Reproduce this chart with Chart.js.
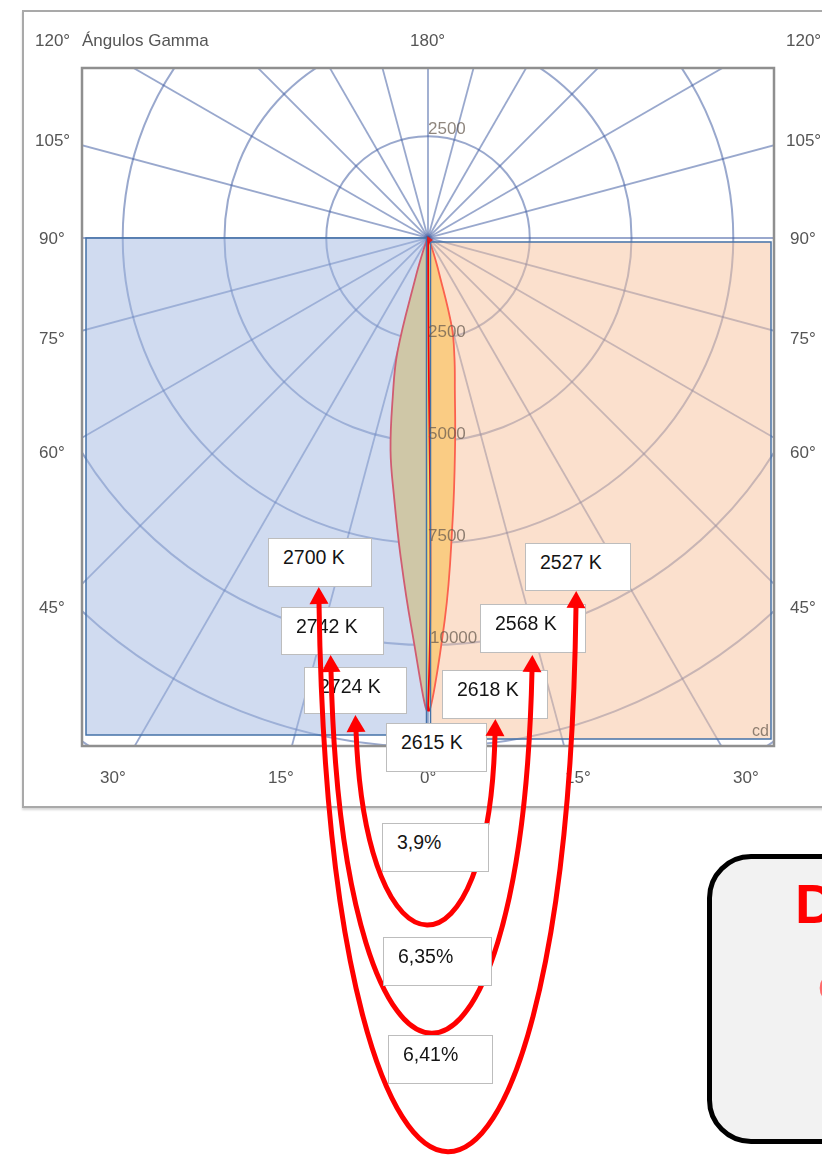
<!DOCTYPE html>
<html>
<head>
<meta charset="utf-8">
<script src="https://cdn.jsdelivr.net/npm/chart.js@4.4.0/dist/chart.umd.min.js"></script>
<style>
  html, body { margin: 0; padding: 0; background: #fff; }
  body { width: 822px; height: 1156px; position: relative; overflow: hidden; font-family: "Liberation Sans", Arial, sans-serif; }
  .abs { position: absolute; white-space: nowrap; line-height: 1; }
  #frame { position: absolute; left: 22px; top: 10px; width: 840px; height: 794px; border: 2px solid #a9a9a9; box-shadow: 0 2px 2px #d6d6d6; }
  #chart { position: absolute; left: 0; top: 0; z-index: 1; }
  .lbl { color: #555; font-size: 17px; z-index: 2; }
  .rad { color: rgba(100, 88, 76, 0.72); font-size: 17px; z-index: 2; }
  .box { position: absolute; background: #fff; border: 1.5px solid #bdbdbd; box-sizing: border-box; }
  .box span { position: absolute; left: 14px; top: 9px; font-size: 19.5px; color: #141414; line-height: 1; white-space: nowrap; }
  .k { z-index: 3; }
  .pct { z-index: 5; }
  #arrows { position: absolute; left: 0; top: 0; z-index: 4; }
  #panel { position: absolute; left: 707px; top: 854px; width: 200px; height: 290px; box-sizing: border-box; border: 5px solid #000; border-radius: 44px; background: #f2f2f2; z-index: 2; }
</style>
</head>
<body>
<div id="frame"></div>
<canvas id="chart" width="822" height="1156"></canvas>
<svg id="arrows" width="822" height="1156"></svg>
<div id="panel"></div>
<script>
// luminous intensity (cd) by gamma angle
const gammaAngles = [0, 2.5, 5, 7.5, 10, 12.5, 15, 17.5, 20, 25, 30];
const intensityLeft = [11500, 9530, 7800, 6400, 5300, 4000, 2900, 1000, 400, 100, 0];
const intensityRight = [11500, 9400, 6950, 5100, 3800, 3000, 2250, 900, 400, 100, 0];

// polar grid
const ringValues = [2500, 5000, 7500, 10000, 12500, 15000];
const rayAngles = [0, 15, 30, 45, 60, 75, 90, 105, 120, 135, 150, 165, 180, 195, 210, 225, 240, 255, 270, 285, 300, 315, 330, 345];
const upperRingLabels = ['2500'];
const lowerRingLabels = ['2500', '5000', '7500', '10000'];

// frame tick labels
const sideTicks = ['120°', '105°', '90°', '75°', '60°', '45°'];
const bottomTicks = ['30°', '15°', '0°', '15°', '30°'];

// annotations
const cctLeft = ['2700 K', '2742 K', '2724 K'];
const cctRight = ['2527 K', '2568 K', '2618 K'];
const cctCenter = '2615 K';
const deviations = ['3,9%', '6,35%', '6,41%'];

function lobe(values, side) {
  const pts = [];
  for (let i = gammaAngles.length - 1; i >= 0; i--) {
    const g = gammaAngles[i] * Math.PI / 180;
    pts.push({ x: side * values[i] * Math.sin(g), y: -values[i] * Math.cos(g) });
  }
  pts.push({ x: 0, y: 0 });
  return pts;
}

const polarGrid = {
  id: 'polarGrid',
  beforeDatasetsDraw(chart) {
    const { ctx, chartArea: a, scales: { x, y } } = chart;
    const cx = x.getPixelForValue(0), cy = y.getPixelForValue(0);
    ctx.save();
    ctx.beginPath();
    ctx.rect(a.left, a.top, a.right - a.left, a.bottom - a.top);
    ctx.clip();
    ctx.strokeStyle = 'rgba(60, 88, 160, 0.52)';
    ctx.lineWidth = 2;
    ringValues.forEach(r => {
      ctx.beginPath();
      ctx.ellipse(cx, cy, x.getPixelForValue(r) - cx, cy - y.getPixelForValue(r), 0, 0, Math.PI * 2);
      ctx.stroke();
    });
    ctx.lineWidth = 1.8;
    rayAngles.forEach(g => {
      const t = g * Math.PI / 180;
      ctx.beginPath();
      ctx.moveTo(cx, cy);
      ctx.lineTo(x.getPixelForValue(30000 * Math.sin(t)), y.getPixelForValue(-30000 * Math.cos(t)));
      ctx.stroke();
    });
    ctx.restore();
  },
  afterDatasetsDraw(chart) {
    const { ctx, chartArea: a, scales: { x, y } } = chart;
    const cx = x.getPixelForValue(0), cy = y.getPixelForValue(0);
    ctx.save();
    // C-plane half panels
    ctx.lineWidth = 1.5;
    ctx.strokeStyle = 'rgb(68, 114, 168)';
    ctx.fillStyle = 'rgba(161, 183, 225, 0.5)';
    ctx.fillRect(a.left + 4, cy, cx - 1.5 - a.left - 4, a.bottom - 11 - cy);
    ctx.strokeRect(a.left + 4, cy, cx - 1.5 - a.left - 4, a.bottom - 11 - cy);
    ctx.fillStyle = 'rgba(247, 193, 155, 0.5)';
    ctx.fillRect(cx + 2.5, cy + 4, a.right - 3 - cx - 2.5, a.bottom - 7 - cy - 4);
    ctx.strokeRect(cx + 2.5, cy + 4, a.right - 3 - cx - 2.5, a.bottom - 7 - cy - 4);
    // centre marker
    ctx.fillStyle = '#e02020';
    ctx.beginPath();
    ctx.moveTo(cx - 1, cy - 2);
    ctx.lineTo(cx + 5, cy + 2);
    ctx.lineTo(cx + 1, cy + 5);
    ctx.closePath();
    ctx.fill();
    // plot border
    ctx.strokeStyle = '#8f8f8f';
    ctx.lineWidth = 2.5;
    ctx.strokeRect(a.left, a.top, a.right - a.left, a.bottom - a.top);
    ctx.restore();
  }
};

const lobeStyle = {
  showLine: true,
  pointRadius: 0,
  borderColor: 'rgb(255, 0, 0)',
  borderWidth: 1.8,
  backgroundColor: 'rgb(252, 214, 108)',
  fill: 'shape',
  tension: 0.4
};

const chart = new Chart(document.getElementById('chart'), {
  type: 'scatter',
  data: {
    datasets: [
      Object.assign({ label: 'C0', data: lobe(intensityLeft, -1) }, lobeStyle),
      Object.assign({ label: 'C180', data: lobe(intensityRight, 1) }, lobeStyle)
    ]
  },
  options: {
    responsive: false,
    devicePixelRatio: 1,
    animation: false,
    layout: { padding: { left: 82, top: 68, right: 48, bottom: 410 } },
    scales: {
      x: { type: 'linear', min: -8500, max: 8500, display: false },
      y: { type: 'linear', min: -12480, max: 4176, display: false }
    },
    plugins: { legend: { display: false }, tooltip: { enabled: false } }
  },
  plugins: [polarGrid]
});

function addText(text, cls, left, cy, size) {
  const d = document.createElement('div');
  d.className = 'abs ' + cls;
  d.textContent = text;
  d.style.left = left + 'px';
  d.style.top = (cy - 0.49 * size) + 'px';
  d.style.fontSize = size + 'px';
  document.body.appendChild(d);
  return d;
}

// frame labels
const sideY = [40, 140, 238, 338, 452, 607];
sideTicks.forEach((t, i) => {
  const off = t.length > 3 ? 0 : 4;
  addText(t, 'lbl', 35 + off, sideY[i], 17);
  addText(t, 'lbl', 786 + off, sideY[i], 17);
});
addText('Ángulos Gamma', 'lbl', 82, 40, 17);
addText('180°', 'lbl', 410, 40, 17);
const bottomX = [100, 268, 420, 565, 733];
bottomTicks.forEach((t, i) => addText(t, 'lbl', bottomX[i], 777, 17));
addText('cd', 'rad', 752, 731, 16);

// ring labels placed on the scales
const xs = chart.scales.x, ys = chart.scales.y;
upperRingLabels.forEach(t => addText(t, 'rad', xs.getPixelForValue(0), ys.getPixelForValue(+t) - 8, 17));
lowerRingLabels.forEach(t => addText(t, 'rad', xs.getPixelForValue(0) + (t.length > 4 ? 2 : 0), ys.getPixelForValue(-t) - 8, 17));

function addBox(text, cls, l, t, w, h) {
  const b = document.createElement('div');
  b.className = 'box ' + cls;
  Object.assign(b.style, { left: l + 'px', top: t + 'px', width: w + 'px', height: h + 'px' });
  const s = document.createElement('span');
  s.textContent = text;
  b.appendChild(s);
  document.body.appendChild(b);
}

const leftBoxes = [[268, 538, 104, 49], [281, 607, 103, 48], [304, 667, 103, 47]];
const rightBoxes = [[525, 543, 106, 48], [480, 604, 106, 49], [442, 670, 106, 49]];
cctLeft.forEach((t, i) => addBox(t, 'k', ...leftBoxes[i]));
cctRight.forEach((t, i) => addBox(t, 'k', ...rightBoxes[i]));
addBox(cctCenter, 'k', 386, 723, 101, 49);
const pctBoxes = [[382, 823, 107, 49], [383, 937, 109, 49], [388, 1035, 105, 49]];
deviations.forEach((t, i) => addBox(t, 'pct', ...pctBoxes[i]));

// U-shaped double arrows: start, control 1, control 2, end
const arrowPaths = [
  [[356, 731], [366, 989], [489, 989], [495, 735]],
  [[331, 671], [343, 1154], [521, 1154], [532, 671]],
  [[319, 603], [330, 1334], [566, 1334], [576, 607]]
];
const svg = document.getElementById('arrows');
const NS = 'http://www.w3.org/2000/svg';
function head(p, c) {
  let dx = p[0] - c[0], dy = p[1] - c[1];
  const len = Math.hypot(dx, dy); dx /= len; dy /= len;
  const tip = [p[0] + dx * 16, p[1] + dy * 16];
  const base = [p[0] - dx * 1, p[1] - dy * 1];
  const nx = -dy, ny = dx;
  const poly = document.createElementNS(NS, 'polygon');
  poly.setAttribute('points', [tip, [base[0] + nx * 9.5, base[1] + ny * 9.5], [base[0] - nx * 9.5, base[1] - ny * 9.5]].map(q => q.join(',')).join(' '));
  poly.setAttribute('fill', '#ff0000');
  svg.appendChild(poly);
}
arrowPaths.forEach(([p0, c1, c2, p1]) => {
  const path = document.createElementNS(NS, 'path');
  path.setAttribute('d', `M${p0} C${c1} ${c2} ${p1}`);
  path.setAttribute('fill', 'none');
  path.setAttribute('stroke', '#ff0000');
  path.setAttribute('stroke-width', '5');
  svg.appendChild(path);
  head(p0, c1);
  head(p1, c2);
});

// cut-off note panel on the right
const dTxt = addText('D', '', 795, 903, 56);
Object.assign(dTxt.style, { color: '#ff0000', fontWeight: 'bold', zIndex: 3 });
const cTxt = addText('c', '', 818, 985, 40);
Object.assign(cTxt.style, { color: '#ff6a6a', zIndex: 3 });
</script>
</body>
</html>
